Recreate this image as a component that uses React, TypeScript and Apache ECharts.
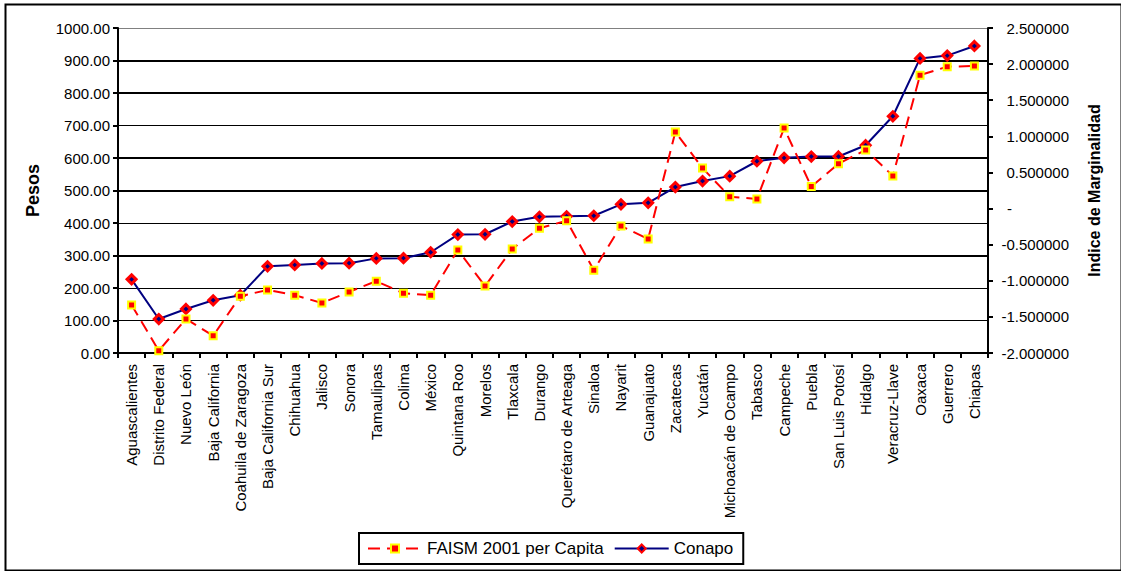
import React, { useEffect, useRef } from "react";
import * as echarts from "echarts";

const states = [
  "Aguascalientes", "Distrito Federal", "Nuevo León", "Baja California", "Coahuila de Zaragoza",
  "Baja California Sur", "Chihuahua", "Jalisco", "Sonora", "Tamaulipas", "Colima", "México",
  "Quintana Roo", "Morelos", "Tlaxcala", "Durango", "Querétaro de Arteaga", "Sinaloa", "Nayarit",
  "Guanajuato", "Zacatecas", "Yucatán", "Michoacán de Ocampo", "Tabasco", "Campeche", "Puebla",
  "San Luis Potosí", "Hidalgo", "Veracruz-Llave", "Oaxaca", "Guerrero", "Chiapas",
];

const faism = [
  148, 7, 105, 53, 175, 194, 178, 154, 188, 221, 184, 178, 317, 206, 320, 384, 407, 255, 391, 351,
  680, 569, 481, 474, 692, 512, 582, 625, 545, 855, 881, 883,
];

const conapo = [
  -0.98, -1.53, -1.39, -1.27, -1.2, -0.8, -0.78, -0.76, -0.756, -0.69, -0.687, -0.605, -0.36, -0.356,
  -0.18, -0.114, -0.107, -0.0996, 0.058, 0.08, 0.298, 0.381, 0.449, 0.655, 0.702, 0.7205, 0.7211,
  0.877, 1.278, 2.079, 2.118, 2.251,
];

const boldGridValues = [300, 500, 600, 800, 900];

const FONT = "'Liberation Sans', Arial, sans-serif";

export default function App() {
  const ref = useRef<HTMLDivElement>(null);
  useEffect(() => {
    if (!ref.current) return;
    const chart = echarts.init(ref.current, undefined, { renderer: "svg" });
    const gridColors = Array.from({ length: 11 }, (_, i) => (i === 10 ? "#808080" : "#000000"));
    chart.setOption({
      animation: false,
      backgroundColor: "#ffffff",
      textStyle: { fontFamily: FONT, color: "#000" },
      grid: { left: 118, right: 133, top: 28, bottom: 218, containLabel: false },
      legend: {
        data: ["FAISM 2001 per Capita", "Conapo"],
        left: 359,
        top: 533,
        orient: "horizontal",
        borderColor: "#000",
        borderWidth: 2,
        padding: [7, 10, 7, 8],
        itemGap: 10,
        itemWidth: 54,
        itemHeight: 10,
        textStyle: { fontSize: 17, color: "#000", fontFamily: FONT },
      },
      xAxis: {
        type: "category",
        data: states,
        boundaryGap: true,
        axisLine: { lineStyle: { color: "#000", width: 2 } },
        axisTick: { show: true, length: 5, lineStyle: { color: "#000", width: 2 } },
        axisLabel: { rotate: 90, fontSize: 15, color: "#000", margin: 11, fontFamily: FONT, interval: 0 },
        splitLine: { show: false },
      },
      yAxis: [
        {
          type: "value",
          min: 0,
          max: 1000,
          interval: 100,
          name: "Pesos",
          nameLocation: "middle",
          nameRotate: 90,
          nameGap: 76,
          nameTextStyle: { fontSize: 18, fontWeight: "bold", color: "#000", fontFamily: FONT },
          axisLine: { show: true, lineStyle: { color: "#000", width: 2 } },
          axisTick: { show: true, length: 5, lineStyle: { color: "#000", width: 2 } },
          axisLabel: {
            fontSize: 15,
            color: "#000",
            margin: 8,
            fontFamily: FONT,
            formatter: (v: number) => v.toFixed(2),
          },
          splitLine: { show: true, lineStyle: { color: gridColors, width: 1 } },
        },
        {
          type: "value",
          min: -2,
          max: 2.5,
          interval: 0.5,
          position: "right",
          name: "Indice de Marginalidad",
          nameLocation: "middle",
          nameRotate: 90,
          nameGap: 98,
          nameTextStyle: { fontSize: 16, fontWeight: "bold", color: "#000", fontFamily: FONT },
          axisLine: { show: true, lineStyle: { color: "#000", width: 2 } },
          axisTick: { show: true, length: 5, lineStyle: { color: "#000", width: 2 } },
          axisLabel: {
            fontSize: 15,
            color: "#000",
            margin: 12,
            fontFamily: FONT,
            formatter: (v: number) =>
              Math.abs(v) < 1e-9 ? "{z|-}" : "{a|" + v.toFixed(6) + "}",
            rich: {
              a: { width: 69, align: "right", fontSize: 15, fontFamily: FONT, color: "#000" },
              z: { width: 62, align: "left", padding: [0, 0, 0, 7], fontSize: 15, fontFamily: FONT, color: "#000" },
            },
          },
          splitLine: { show: false },
        },
      ],
      series: [
        {
          name: "FAISM 2001 per Capita",
          type: "line",
          yAxisIndex: 0,
          data: faism,
          z: 4,
          symbol: "rect",
          symbolSize: 7,
          showAllSymbol: true,
          lineStyle: { color: "#FF0000", width: 2, type: [12, 7] },
          itemStyle: { color: "#FF0000", borderColor: "#FFFF00", borderWidth: 2 },
          markLine: {
            silent: true,
            symbol: ["none", "none"],
            label: { show: false },
            z: 1,
            lineStyle: { color: "#000", width: 2, type: "solid" },
            data: boldGridValues.map((v) => ({ yAxis: v })),
          },
        },
        {
          name: "Conapo",
          type: "line",
          yAxisIndex: 1,
          data: conapo,
          z: 3,
          symbol: "diamond",
          symbolSize: 9,
          showAllSymbol: true,
          lineStyle: { color: "#000080", width: 2 },
          itemStyle: { color: "#000080", borderColor: "#FF0000", borderWidth: 3 },
        },
      ],
      graphic: [
        {
          type: "rect",
          left: 3,
          top: 2,
          shape: { width: 1116, height: 566 },
          style: { fill: "none", stroke: "#000", lineWidth: 2 },
          silent: true,
          z: 100,
        },
      ],
    });
    return () => chart.dispose();
  }, []);
  return (
    <div
      ref={ref}
      style={{ position: "absolute", left: 0, top: 0, width: 1121, height: 571 }}
    />
  );
}
